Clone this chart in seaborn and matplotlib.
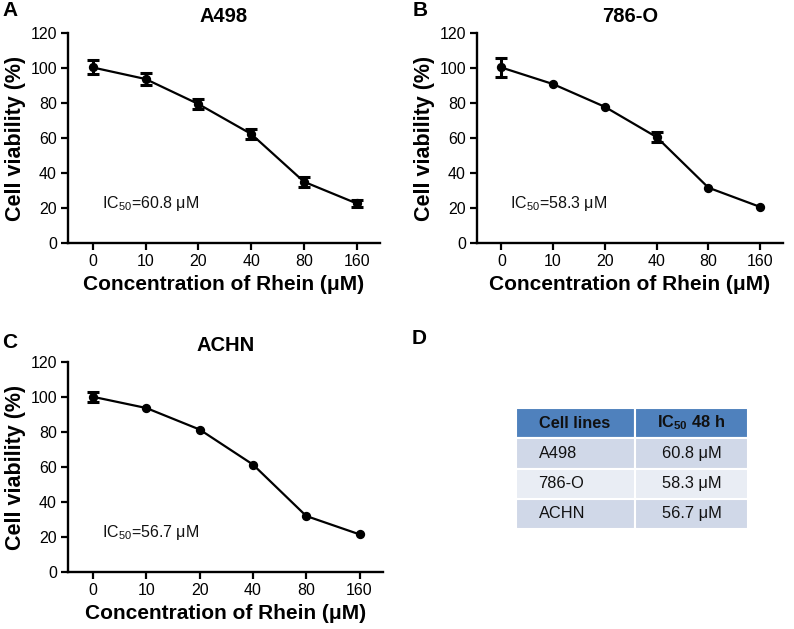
import matplotlib
matplotlib.use("Agg")
import matplotlib.pyplot as plt
import seaborn as sns
import numpy as np
import pandas as pd

sns.set_theme(style="ticks")
plt.rcParams['font.family'] = ['Liberation Sans', 'DejaVu Sans']
plt.rcParams['mathtext.default'] = 'regular'
plt.rcParams['text.color'] = 'black'
plt.rcParams['axes.labelcolor'] = 'black'
plt.rcParams['xtick.color'] = 'black'
plt.rcParams['ytick.color'] = 'black'

concentrations = ["0", "10", "20", "40", "80", "160"]

a498_mean = [100.3, 93.7, 79.4, 62.3, 35.0, 22.6]
a498_sd = [4.0, 3.3, 2.9, 3.1, 3.0, 2.0]

o786_mean = [100.3, 90.8, 77.8, 60.5, 31.6, 20.6]
o786_sd = [5.3, 0.0, 0.0, 2.8, 0.0, 0.0]

achn_mean = [100.1, 93.7, 81.4, 61.4, 32.0, 21.5]
achn_sd = [2.9, 0.0, 0.0, 0.0, 0.0, 0.0]

titles = ["A498", "786-O", "ACHN"]
ic50_labels = ["60.8 μM", "58.3 μM", "56.7 μM"]
panel_letters = ["A", "B", "C", "D"]

table_header = ["Cell lines", "IC$_{50}$ 48 h"]
table_rows = [["A498", "60.8 μM"], ["786-O", "58.3 μM"], ["ACHN", "56.7 μM"]]

fig = plt.figure(figsize=(7.94, 6.29), dpi=100)
W, H = 794, 629

def fax(l, r, t, b):
    return fig.add_axes([l / W, 1 - b / H, (r - l) / W, (b - t) / H])

axes = [fax(68, 380, 33, 243), fax(477, 783, 33, 243), fax(68, 383, 362, 572)]
datasets = [(a498_mean, a498_sd), (o786_mean, o786_sd), (achn_mean, achn_sd)]

for ax, (m, s), title, ic in zip(axes, datasets, titles, ic50_labels):
    df = pd.DataFrame({"conc": concentrations, "viab": m})
    sns.pointplot(data=df, x="conc", y="viab", color="black", markers="o",
                  errorbar=None, ax=ax, linewidth=1.6, markersize=5.5)
    idx = np.array([i for i, v in enumerate(s) if v > 0])
    if len(idx):
        ax.errorbar(idx, np.array(m)[idx], yerr=np.array(s)[idx], fmt="none",
                    ecolor="black", elinewidth=2.2, capsize=4.5, capthick=2.2, zorder=1)
    ax.set_ylim(0, 120)
    ax.set_yticks([0, 20, 40, 60, 80, 100, 120])
    ax.set_xlim(-0.47, 5.44)
    for sp in ["top", "right"]:
        ax.spines[sp].set_visible(False)
    for sp in ["left", "bottom"]:
        ax.spines[sp].set_linewidth(1.7)
        ax.spines[sp].set_color("black")
    ax.tick_params(axis="both", direction="out", length=5, width=1.6,
                   labelsize=11.5, colors="black", labelcolor="black", pad=3)
    ax.set_xlabel("Concentration of Rhein (μM)", fontsize=15, fontweight="bold",
                  labelpad=4, color="black")
    ax.set_ylabel("Cell viability (%)", fontsize=15.5, fontweight="bold",
                  labelpad=3, color="black")
    ax.set_title(title, fontsize=14.5, fontweight="bold", pad=8, color="black")
    ax.text(0.17, 22.6, "IC$_{50}$=" + ic, fontsize=11.5, va="center", ha="left", color="#111111")
    ax.set_facecolor("white")

# panel letters
letter_pos = [(2, 10), (413, 10), (2, 342), (412, 338)]
for lt, (x, y) in zip(panel_letters, letter_pos):
    fig.text(x / W, 1 - y / H, lt, fontsize=15, fontweight="bold", va="center",
             ha="left", color="black")

# table
tax = fax(516, 748, 408, 529)
tax.axis("off")
cell_text = [table_header] + table_rows
colors = [["#4F81BD", "#4F81BD"], ["#D0D8E8", "#D0D8E8"],
          ["#E9EDF4", "#E9EDF4"], ["#D0D8E8", "#D0D8E8"]]
tbl = tax.table(cellText=cell_text, cellColours=colors, bbox=[0, 0, 1, 1],
                colWidths=[119 / 232, 113 / 232])
tbl.auto_set_font_size(False)
for (r, c), cell in tbl.get_celld().items():
    cell.set_edgecolor("white")
    cell.set_linewidth(1.5)
    txt = cell.get_text()
    txt.set_fontsize(11.8)
    txt.set_color("#111111")
    if c == 0:
        txt.set_ha("left")
        cell.PAD = 0.19
    else:
        txt.set_ha("center")
    if r == 0:
        txt.set_fontweight("bold")

fig.savefig("out.png", dpi=100)
